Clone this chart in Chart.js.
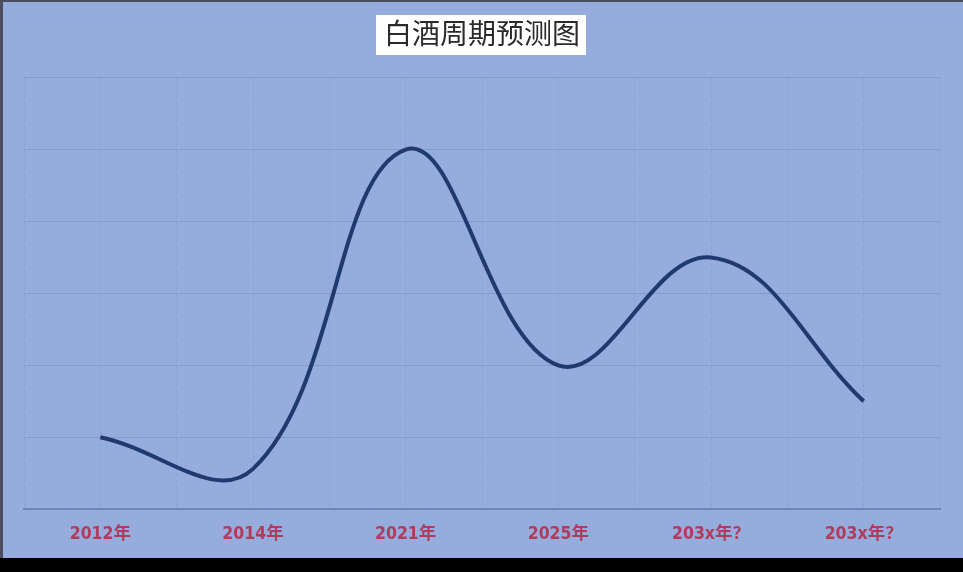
<!DOCTYPE html>
<html>
<head>
<meta charset="utf-8">
<script src="https://cdn.jsdelivr.net/npm/chart.js@4/dist/chart.umd.min.js"></script>
<style>
  html, body { margin: 0; padding: 0; background: #000; }
  #wrap {
    width: 960px; height: 556px;
    overflow: hidden;
    background: #95acdd;
    border-top: 2px solid #4b4e5c;
    border-left: 3px solid #4b4e5c;
  }
</style>
</head>
<body>
<div id="wrap"><canvas id="grafico" width="960" height="558"></canvas></div>
<script>
// 白酒周期预测图
const categorias = ['2012年', '2014年', '2021年', '2025年', '203x年？', '203x年？'];
const posiciones = [1, 3, 5, 7, 9, 11];
const valores = [1, 0.56, 5, 2, 3.5, 1.5];

const puntos = posiciones.map((x, i) => ({ x: x, y: valores[i] }));

// caja blanca detrás del título
const fondoTitulo = {
  id: 'fondoTitulo',
  beforeDraw(chart) {
    const t = chart.titleBlock;
    if (!t) return;
    const ctx = chart.ctx;
    ctx.save();
    ctx.font = '28px "Noto Sans CJK SC"';
    const w = ctx.measureText(chart.options.plugins.title.text).width;
    const cx = (t.left + t.right) / 2;
    ctx.fillStyle = '#ffffff';
    ctx.fillRect(cx - w / 2 - 8, 13, w + 14, 40);
    ctx.restore();
  }
};

new Chart(document.getElementById('grafico'), {
  type: 'line',
  data: {
    datasets: [{
      data: puntos,
      borderColor: '#1e3a6f',
      borderWidth: 4,
      tension: 0.4,
      pointRadius: 0,
      fill: false
    }]
  },
  options: {
    responsive: false,
    animation: false,
    layout: { padding: { left: 21, right: 23, top: 0, bottom: 0 } },
    plugins: {
      legend: { display: false },
      tooltip: { enabled: false },
      title: {
        display: true,
        text: '白酒周期预测图',
        color: '#2a2a2a',
        font: { family: '"Noto Sans CJK SC"', size: 28, weight: 'normal' },
        padding: { top: 15, bottom: 27 }
      }
    },
    scales: {
      x: {
        type: 'linear',
        min: 0,
        max: 12,
        ticks: {
          stepSize: 1,
          autoSkip: false,
          maxRotation: 0,
          padding: 18,
          color: '#b03c5c',
          font: { family: '"DejaVu Sans Condensed", "Noto Sans CJK SC"', size: 17.5, weight: 'bold', lineHeight: 0.85 },
          callback: v => {
            const i = posiciones.indexOf(v);
            return i >= 0 ? categorias[i] : '';
          }
        },
        grid: { color: 'rgba(120,140,190,0.35)', lineWidth: 1, drawTicks: false },
        border: { display: true, color: '#7085b8', width: 2, dash: [3, 3] }
      },
      y: {
        min: 0,
        max: 6,
        ticks: { display: false, stepSize: 1 },
        grid: { color: 'rgba(115,135,185,0.45)', lineWidth: 1, drawTicks: false },
        border: { display: false }
      }
    }
  },
  plugins: [fondoTitulo]
});
</script>
</body>
</html>
